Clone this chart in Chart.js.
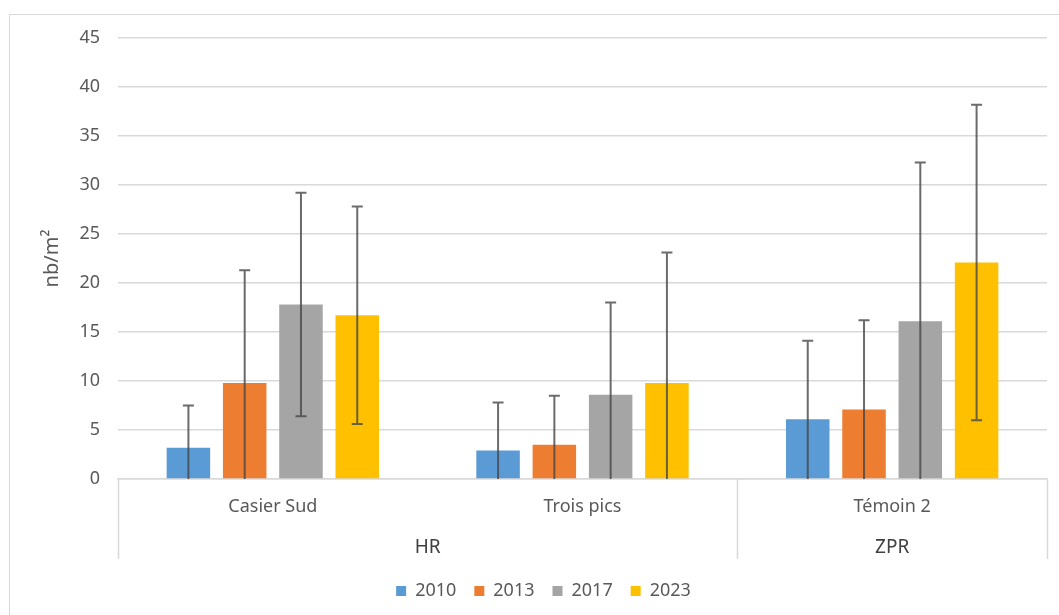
<!DOCTYPE html>
<html>
<head>
<meta charset="utf-8">
<script src="https://cdn.jsdelivr.net/npm/chart.js@4.4.1/dist/chart.umd.min.js"></script>
<style>
  html, body { margin: 0; padding: 0; background: #ffffff; overflow: hidden; }
  #frame { position: absolute; left: 9px; top: 14px; width: 1100px; height: 700px;
           border: 1px solid #d9d9d9; box-sizing: border-box; }
  #wrap { position: absolute; left: 0; top: 0; width: 1059px; height: 615px; }
</style>
</head>
<body>
<div id="frame"></div>
<div id="wrap"><canvas id="chart" width="1059" height="615"></canvas></div>
<script>
// Sites (first axis level) and their zones (second axis level)
const categories = ['Casier Sud', 'Trois pics', 'Témoin 2'];
const zoneLabels = ['HR', 'ZPR'];
const zoneSpans = [2, 1];

const years = ['2010', '2013', '2017', '2023'];

// Mean density (nb/m²) per site
const values2010 = [3.2, 2.9, 6.1];
const values2013 = [9.8, 3.5, 7.1];
const values2017 = [17.8, 8.6, 16.1];
const values2023 = [16.7, 9.8, 22.1];

// Standard deviation per site
const errors2010 = [4.3, 4.9, 8.0];
const errors2013 = [11.5, 5.0, 9.1];
const errors2017 = [11.4, 9.4, 16.2];
const errors2023 = [11.1, 13.3, 16.1];

const yTicks = [0, 5, 10, 15, 20, 25, 30, 35, 40, 45];

const colors = ['#5B9BD5', '#ED7D31', '#A5A5A5', '#FFC000'];
const seriesValues = [values2010, values2013, values2017, values2023];
const seriesErrors = [errors2010, errors2013, errors2017, errors2023];

const FONT = '"Noto Sans", "Open Sans", sans-serif';
const TEXT = '#595959';

// Symmetric error bars, clipped to the plot area
const errorBars = {
  id: 'errorBars',
  afterDatasetsDraw(chart) {
    const { ctx, chartArea, scales: { y } } = chart;
    ctx.save();
    ctx.beginPath();
    ctx.rect(chartArea.left, chartArea.top, chartArea.right - chartArea.left, chartArea.bottom - chartArea.top);
    ctx.clip();
    ctx.strokeStyle = 'rgba(70,70,70,0.8)';
    ctx.lineWidth = 2;
    chart.data.datasets.forEach((ds, di) => {
      const meta = chart.getDatasetMeta(di);
      meta.data.forEach((bar, i) => {
        const v = ds.data[i], e = ds.errors[i];
        const yt = y.getPixelForValue(v + e);
        const yb = y.getPixelForValue(v - e);
        const x = bar.x, cap = 5.5;
        ctx.beginPath();
        ctx.moveTo(x, yb); ctx.lineTo(x, yt);
        ctx.moveTo(x - cap, yt); ctx.lineTo(x + cap, yt);
        ctx.moveTo(x - cap, yb); ctx.lineTo(x + cap, yb);
        ctx.stroke();
      });
    });
    ctx.restore();
  }
};

// Second level of the category axis: zone separators and labels
const zoneAxis = {
  id: 'zoneAxis',
  afterDraw(chart) {
    const { ctx, chartArea, scales: { x } } = chart;
    const bottom = chartArea.bottom + 80;
    const edge = (idx) => {
      if (idx <= 0) return chartArea.left;
      if (idx >= categories.length) return chartArea.right;
      return (x.getPixelForTick(idx - 1) + x.getPixelForTick(idx)) / 2;
    };
    ctx.save();
    ctx.strokeStyle = '#d9d9d9';
    ctx.lineWidth = 1.5;
    let start = 0;
    const bounds = [0];
    zoneSpans.forEach(s => { start += s; bounds.push(start); });
    bounds.forEach(b => {
      const px = Math.round(edge(b)) + 0.5;
      ctx.beginPath();
      ctx.moveTo(px, chartArea.bottom);
      ctx.lineTo(px, bottom);
      ctx.stroke();
    });
    ctx.fillStyle = '#404040';
    ctx.font = '19px ' + FONT;
    ctx.textAlign = 'center';
    ctx.textBaseline = 'middle';
    zoneLabels.forEach((lab, k) => {
      const cx = (edge(bounds[k]) + edge(bounds[k + 1])) / 2;
      ctx.fillText(lab, cx, chartArea.bottom + 69);
    });
    ctx.restore();
  }
};

new Chart(document.getElementById('chart'), {
  type: 'bar',
  data: {
    labels: categories,
    datasets: years.map((yr, k) => ({
      label: yr,
      data: seriesValues[k],
      errors: seriesErrors[k],
      backgroundColor: colors[k],
      borderWidth: 0,
      categoryPercentage: 0.727,
      barPercentage: 0.773
    }))
  },
  options: {
    responsive: false,
    animation: false,
    devicePixelRatio: 1,
    layout: { padding: { top: 38, right: 12, bottom: 5, left: 40 } },
    plugins: {
      tooltip: { enabled: false },
      legend: {
        position: 'bottom',
        labels: {
          boxWidth: 10, boxHeight: 10, padding: 18,
          color: TEXT, font: { family: FONT, size: 18 }
        }
      }
    },
    scales: {
      x: {
        grid: { display: false, drawTicks: false },
        border: { color: '#d9d9d9', width: 1.5 },
        ticks: { color: TEXT, font: { family: FONT, size: 18 }, padding: 17 },
        afterFit(scale) { scale.height = 85; }
      },
      y: {
        min: 0, max: 45,
        afterBuildTicks(scale) { scale.ticks = yTicks.map(v => ({ value: v })); },
        afterFit(scale) { scale.width = 78; },
        grid: { color: '#d9d9d9', lineWidth: 1.5, drawTicks: false },
        border: { display: false },
        ticks: { color: TEXT, font: { family: FONT, size: 18 }, padding: 18 },
        title: {
          display: true, text: 'nb/m²', color: TEXT,
          font: { family: FONT, size: 20 }, padding: { top: 0, bottom: 0 }
        }
      }
    }
  },
  plugins: [errorBars, zoneAxis]
});
</script>
</body>
</html>
